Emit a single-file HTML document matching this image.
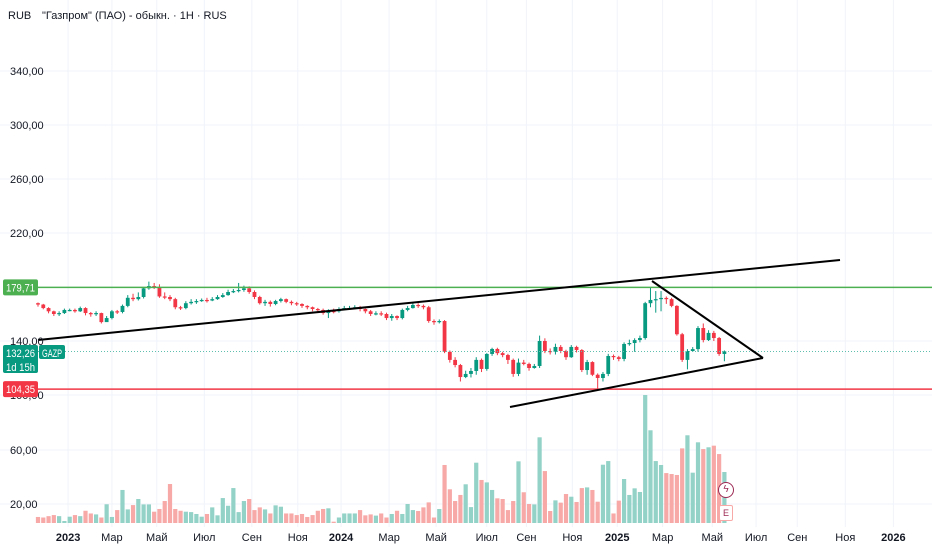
<!DOCTYPE html>
<html><head><meta charset="utf-8">
<style>
html,body{margin:0;padding:0;background:#fff;}
body{width:932px;height:550px;overflow:hidden;position:relative;font-family:"Liberation Sans","Noto Sans CJK SC",sans-serif;}
svg{position:absolute;left:0;top:0;}
</style></head>
<body>
<svg id="chart" width="932" height="550" font-family="Liberation Sans, sans-serif">
  <g id="grid"></g>
  <g id="vol"></g>
  <g id="candles"></g>
  <g id="lines"></g>
  <g id="axes"></g>
  <text x="8" y="19" font-size="11" fill="#131722">RUB</text>
  <text x="42" y="19" font-size="11" fill="#131722">"Газпром" (ПАО) - обыкн. · 1Н · RUS</text>
</svg>
<script>
const priceTicks=[340,300,260,220,140,100];
const volTicks=[60,20];
const timeLabels=["2023","Мар","Май","Июл","Сен","Ноя","2024","Мар","Май","Июл","Сен","Ноя","2025","Мар","Май","Июл","Сен","Ноя","2026"];
const timeLabelWeeks=[5.7,14,22.5,31.5,40.5,49.2,57.4,66.5,75.4,85,92.5,101.2,109.7,118.3,127.7,136,143.8,152.9,162];
const closes=[167,164.4,162,160,160.7,163,163,162,164.4,160.7,160,160.7,154,157,162,161.5,166,172,171,172.6,179,180.7,180,173,172.6,171,165,164.4,168,169,169.6,170.4,170,171,172.6,174,176.3,177,177.8,179,176.3,172.6,168,169,167.4,169.6,171,169,168,167.4,166,165,163.7,163,160.7,162.2,162,163.7,164.4,164.4,165,163.7,162,160,160.5,160,157,158.5,157,163,164.4,166.7,166,165,154.8,154,154.8,132,126,122.2,113.3,115.6,117.8,126,119.3,130.4,134.1,131,129.6,126,115.6,124,123,120,121.5,140,132.6,132,135.6,132.6,128,135.6,133.3,118.5,124.4,115,112.6,115.6,128.9,128,126.7,137.8,138.5,140.7,142.2,168,170.4,171,171.9,171,166,145,126,132.6,134,149.6,140.7,146,142.2,130.4,132.3];
const highs=[168.5,167.5,165,162.5,162,164,164,164,165.5,165,161.5,162,161,158.5,163,163,167,174,175,176,180,184,183,182,176,174,172,166,169.5,171,171,171.5,172,172.5,174,175.5,178,178.5,183,181,180.5,177.5,173.5,170.5,170,170.5,172,171.5,170,169,168,166.5,165.5,164.5,164,163.5,164,165,166,166,166.5,166,164,163,162,162,161,160,159,164,166,168,168,167,166,156,156,155.5,133,128,123,118,120,128,127,131,135,135,132,130.5,127,127,126,124,123,144,142,134.5,138,137,133.5,137,136.5,134,126,125,116,117,130.5,130,129,139,141,142,144,169,180,177,177,173,172,166.5,146,134,135.5,151,153,148,147.5,143,133];
const lows=[165.5,163.5,160.5,158.5,158.5,160,162,161,161.5,159,158,158.5,153,155,156,160,160.5,165,169.5,170,171.5,178,178.5,172,171,169.5,163.5,163,163.5,167,167.5,169,168.5,169.5,170.5,172,173.5,175.5,176,176.5,175,171,167,166,165.5,166.5,168.5,168,166.5,166,164.5,163.5,162,161.5,159.5,157,160.5,161,163,163,163.5,162,160.5,158.5,159,158.5,155.5,155,155.5,156,162,164,164.5,163.5,153.5,152,153,131,124,120.5,110,112.5,113,115,117,118,129,129.5,128,123,113.5,114,122,118,119.5,120,131,130,130,131,126,127.5,131.5,117,115,114,104.5,110,114,126,125,125,136.5,132,139,141,165,161,162,167.5,165,144,124.5,119,132,132,139,140,140,129,125];
const volumes=[10.4,10,11,11.8,11,7.4,10.6,11.8,11,15,13,12.3,10,19.8,10.4,15.5,30.4,16,19.2,23.7,19.7,19.7,14.3,16.3,22.2,34.8,16.3,15,14.3,14,12.6,10.6,12.6,17.5,11.6,24.4,18.7,31.8,14,22.2,23.7,15.5,17.5,16,13,19,18,13,13,11.8,12.6,10.4,11.8,15,16.3,16.8,6.9,10,13,13,13,15.5,11.6,12.3,11.4,13,10,12.6,15,12.6,20,15.5,14.8,17.5,21.2,10,16.3,48.9,30.9,22.2,26.7,34.6,17.7,50.6,37.8,36,30.4,24.2,23.7,15.5,22.2,51.6,28.7,20,19.7,69.4,44.4,14.8,22.7,21,27.4,25.4,21.5,31.8,32.3,30.4,21.7,49.1,51.8,13,22.5,38.5,26.7,31.6,28.9,102,74.6,51.8,48.9,42.9,42.2,41.5,61.2,70.9,43.2,65.7,60.7,62,63.2,57,43.7];
const firstOpen=168;
const lastPrice=132.26, resistance=179.71, support=104.35;

const NS="http://www.w3.org/2000/svg";
function el(parent,tag,attrs){const e=document.createElementNS(NS,tag);for(const k in attrs)e.setAttribute(k,attrs[k]);parent.appendChild(e);return e;}
const xOf=i=>38+i*5.28;
const yOf=p=>287-(p-180)*1.35;
const yVol=v=>531-v*1.35;
const GREEN="#089981",RED="#f23645";
const grid=document.getElementById('grid'),vol=document.getElementById('vol'),cg=document.getElementById('candles'),lines=document.getElementById('lines'),axes=document.getElementById('axes');

timeLabelWeeks.forEach(w=>{const l=el(grid,'line',{x1:xOf(w),x2:xOf(w),y1:0,y2:527,stroke:'#f0f3fa','stroke-width':1});

});
priceTicks.forEach(p=>{const l=el(grid,'line',{x1:0,x2:932,y1:yOf(p),y2:yOf(p),stroke:'#f0f3fa'});


const t=el(axes,'text',{x:10,y:yOf(p)+4,'font-size':11,fill:'#131722'});t.textContent=p.toFixed(2).replace('.',',');

});
volTicks.forEach(v=>{const l=el(grid,'line',{x1:0,x2:932,y1:yVol(v),y2:yVol(v),stroke:'#f0f3fa'});


const t=el(axes,'text',{x:10,y:yVol(v)+4,'font-size':11,fill:'#131722'});t.textContent=v.toFixed(2).replace('.',',');

});
timeLabels.forEach((s,i)=>{const t=el(axes,'text',{x:xOf(timeLabelWeeks[i]),y:541,'font-size':11,fill:'#131722','text-anchor':'middle','font-weight':/^\d/.test(s)?'bold':'normal'});t.textContent=s;

});

closes.forEach((c,i)=>{
  const o=i===0?firstOpen:closes[i-1];
  const up=c>=o, col=up?GREEN:RED, x=xOf(i);
  const vt=Math.max(yVol(volumes[i]),395);
  const vb=el(vol,'rect',{x:x-2.1,y:vt,width:4.2,height:Math.max(0,523-vt),fill:up?'#92d2c7':'#f7a9a7'});
  
  
  const w=el(cg,'line',{x1:x,x2:x,y1:yOf(highs[i]),y2:yOf(lows[i]),stroke:col,'stroke-width':1});
  
  
  const top=yOf(Math.max(o,c)),bot=yOf(Math.min(o,c));
  const b=el(cg,'rect',{x:x-1.9,y:top,width:3.8,height:Math.max(1.2,bot-top),fill:col});
  
  
});

function line(a,name){const l=el(lines,'line',a);return l;}
line({x1:38,x2:932,y1:yOf(resistance),y2:yOf(resistance),stroke:'#4caf50','stroke-width':1.5},'resistance-line');
line({x1:38,x2:932,y1:yOf(support),y2:yOf(support),stroke:RED,'stroke-width':1.5},'support-line');
line({x1:38,x2:932,y1:yOf(lastPrice),y2:yOf(lastPrice),stroke:'#5fbfae','stroke-width':1,'stroke-dasharray':'1 2'},'last-price-line');
line({x1:38,y1:340,x2:840,y2:260,stroke:'#000','stroke-width':2},'upper-trendline');
line({x1:652,y1:281,x2:763,y2:358,stroke:'#000','stroke-width':2},'triangle-upper-line');
line({x1:510,y1:407,x2:763,y2:358,stroke:'#000','stroke-width':2},'lower-trendline');

function badge(x,y,w,h,fill,lines_,name){const g=el(axes,'g',{});
el(g,'rect',{x:x,y:y,width:w,height:h,rx:2,fill:fill});
lines_.forEach((s,k)=>{const t=el(g,'text',{x:x+3,y:y+12+k*14,'font-size':11,fill:'#fff',textLength:w-6,lengthAdjust:'spacingAndGlyphs'});t.textContent=s;});}
badge(3,yOf(resistance)-8,35,16,'#4caf50',['179,71'],'resistance-badge');
badge(3,yOf(support)-8,35,16,RED,['104,35'],'support-badge');
badge(3,345,35,28,GREEN,['132,26','1d 15h'],'last-price-badge');
badge(39,345,26,14,GREEN,['GAZP'],'ticker-badge');
</script>
<div style="position:absolute;left:718px;top:482px;width:14px;height:14px;border:1.5px solid #9c2a54;border-radius:50%;font-size:10px;line-height:14px;text-align:center;color:#9c2a54;background:#fff;">ϟ</div>
<div style="position:absolute;left:719px;top:505px;width:12px;height:14px;border:1px solid #f7a9a7;border-radius:2px;font-size:9px;line-height:14px;text-align:center;color:#9c2a54;background:#fff;">E</div>
</body></html>
